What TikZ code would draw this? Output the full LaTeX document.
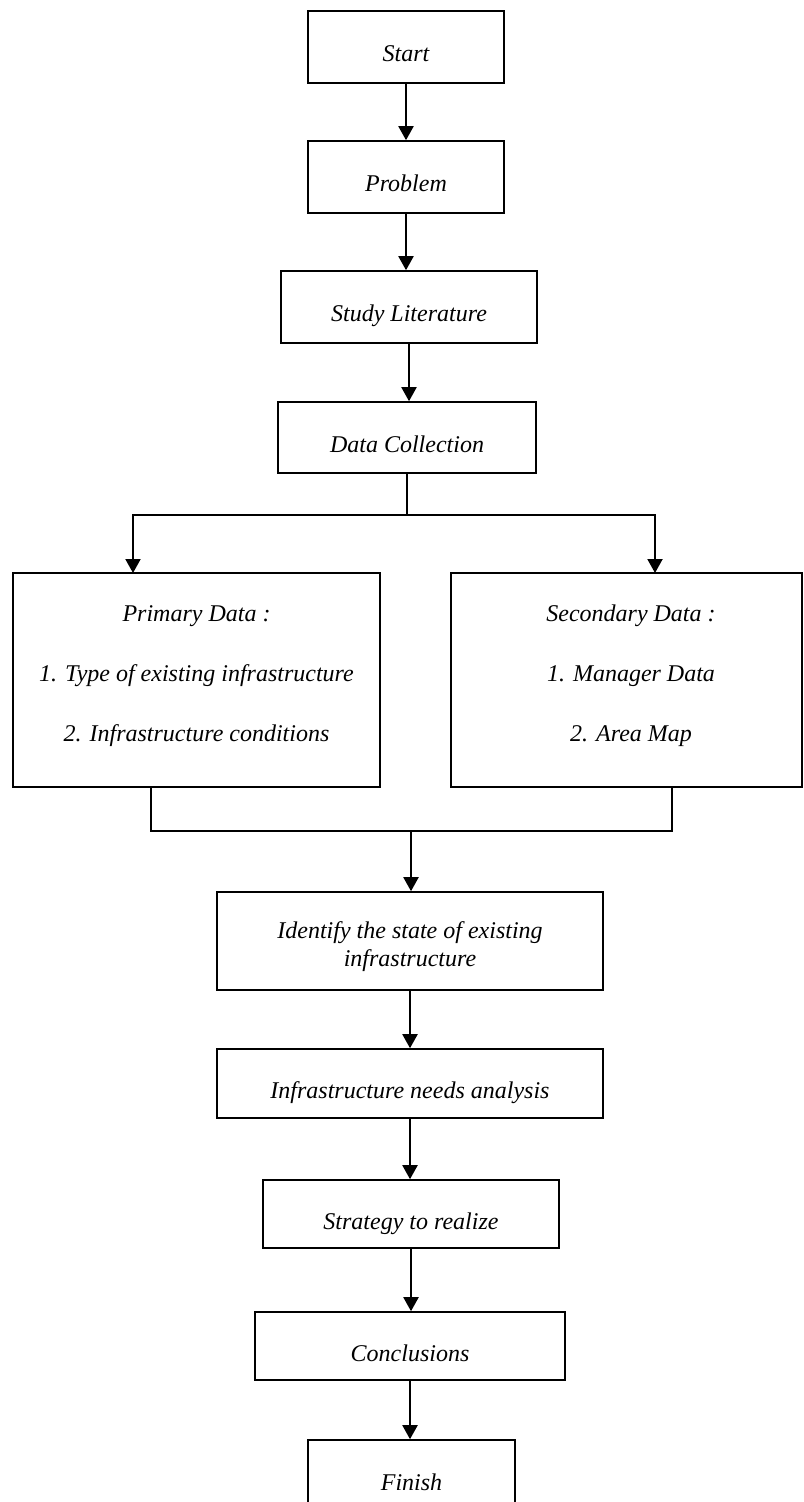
\documentclass[tikz,border=0pt]{standalone}
\usepackage{fontspec}
\setmainfont{Liberation Serif}
\usetikzlibrary{arrows.meta}
\begin{document}
\begin{tikzpicture}[x=0.5pt,y=-0.5pt,
  txt/.style={font=\fontsize{12pt}{14pt}\selectfont\itshape},
  box/.style={draw, line width=0.8pt, inner sep=0pt, txt, text height=15pt, text depth=0pt},
  plainbox/.style={draw, line width=0.8pt, inner sep=0pt},
  lbl/.style={txt, align=center, inner sep=0pt},
  arr/.style={line width=1pt, -{Triangle[length=7pt,width=7.5pt]}},
  link/.style={line width=1pt}]
\useasboundingbox (0,0) rectangle (803,1502);
\begin{scope}
\clip (0,0) rectangle (803,1502);
% boxes
\node[box, minimum width=98pt, minimum height=36pt] (start) at (406,47) {Start};
\node[box, minimum width=98pt, minimum height=36pt] (problem) at (406,177) {Problem};
\node[box, minimum width=128pt, minimum height=36pt] (study) at (409,307) {Study Literature};
\node[box, minimum width=129pt, minimum height=35.5pt] (datacol) at (407,437.5) {Data Collection};
\node[plainbox, minimum width=183.5pt, minimum height=107pt] (primary) at (196.5,680) {};
\node[lbl] (primarytext) at (196.5,676) {Primary Data :\\[16pt]1. Type of existing infrastructure\\[16pt]2. Infrastructure conditions};
\node[plainbox, minimum width=175.5pt, minimum height=107pt] (secondary) at (626.5,680) {};
\node[lbl] (secondarytext) at (631,676) {Secondary Data :\\[16pt]1. Manager Data\\[16pt]2. Area Map};
\node[plainbox, minimum width=193pt, minimum height=49pt] (identify) at (410,941) {};
\node[lbl] (identifytext) at (410,947) {Identify the state of existing\\infrastructure};
\node[box, minimum width=193pt, minimum height=34.5pt] (needs) at (410,1083.5) {Infrastructure needs analysis};
\node[box, minimum width=148pt, minimum height=34pt] (strategy) at (411,1214) {Strategy to realize};
\node[box, minimum width=155pt, minimum height=34pt] (concl) at (410,1346) {Conclusions};
\node[box, minimum width=103.5pt, minimum height=35pt] (finish) at (411.5,1475) {Finish};
% helper coordinates
\coordinate (split) at (407,515);
\coordinate (pL) at (133,573);
\coordinate (sR) at (655,573);
\coordinate (pB) at (151,787);
\coordinate (sB) at (672,787);
\coordinate (merge) at (411,831);
% connectors
\draw[arr] (start) -- (problem);
\draw[arr] (problem.south) -- (problem.south |- study.north);
\draw[arr] (study.south) -- (study.south |- datacol.north);
\draw[link] (datacol.south) -- (datacol.south |- split);
\draw[arr] (split) -| (pL);
\draw[arr] (split) -| (sR);
\draw[link] (pB) -- (pB |- merge) -| (sB);
\draw[arr] (merge) -- (merge |- identify.north);
\draw[arr] (identify.south) -- (needs.north);
\draw[arr] (needs.south) -- (needs.south |- strategy.north);
\draw[arr] (strategy.south) -- (strategy.south |- concl.north);
\draw[arr] (concl.south) -- (concl.south |- finish.north);
\end{scope}
\end{tikzpicture}
\end{document}
